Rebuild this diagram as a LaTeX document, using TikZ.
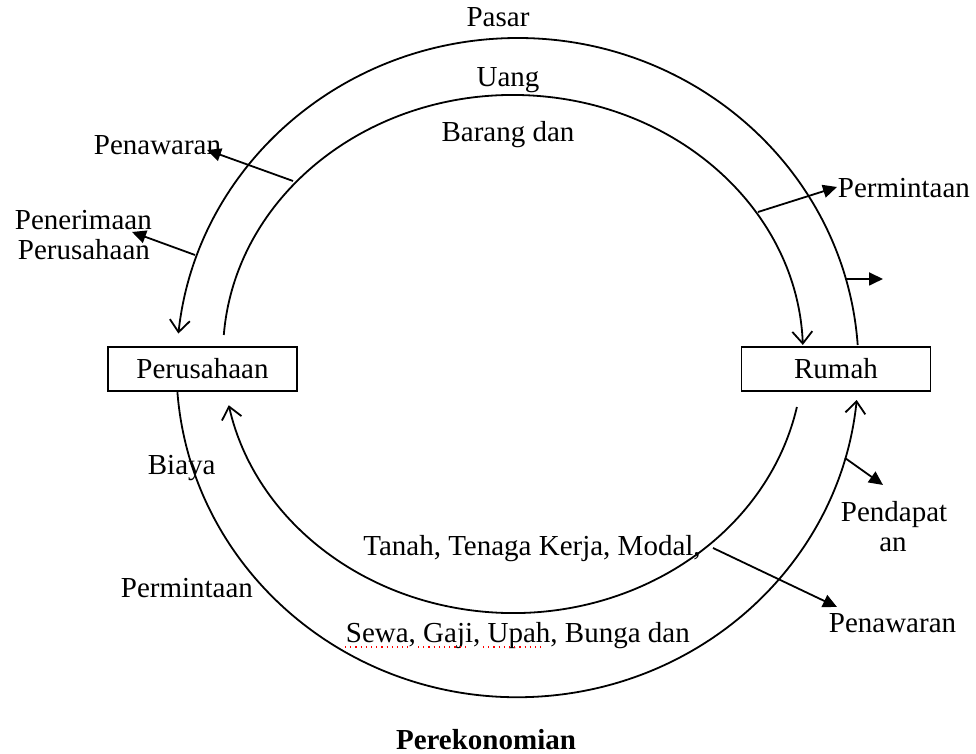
\documentclass[tikz,border=0pt]{standalone}
\usepackage{fontspec}
\setmainfont{Liberation Serif}
\usetikzlibrary{arrows.meta}
\begin{document}
\begin{tikzpicture}[x=0.5pt,y=0.5pt,
  line width=0.9pt,
  flow/.style={-{Straight Barb[length=6pt,width=10pt,line width=0.9pt]}},
  tag/.style={-{Triangle[length=7pt,width=6.5pt]}},
  lbl/.style={inner sep=0pt, font=\fontsize{14.5}{17}\selectfont},
  box/.style={draw, inner sep=0pt, minimum width=94.5pt, minimum height=22pt, font=\fontsize{14.5}{17}\selectfont},
  squig/.style={red, dotted, line width=0.6pt}]
\useasboundingbox (0,0) rectangle (976,754);

% boxes
\node[box] (per) at (202.5,385) {Perusahaan};
\node[box] (rum) at (836,385) {Rumah};

% big flows
\coordinate (oT) at (857.7,409);
\draw[flow] (oT) arc[start angle=4, end angle=174, x radius=341, y radius=330];
\coordinate (oB) at (177.4,362);
\draw[flow] (oB) arc[start angle=184.3, end angle=354.3, x radius=341, y radius=330];
\coordinate (iT) at (223.8,419);
\draw[flow] (iT) arc[start angle=175.8, end angle=2, x radius=290, y radius=259];
\coordinate (iB) at (796.9,347);
\draw[flow] (iB) arc[start angle=-11.8, end angle=-168.6, x radius=290, y radius=259];

% small arrows
\coordinate (a1s) at (293,573); \coordinate (a1t) at (207,604);
\draw[tag] (a1s) -- (a1t);
\coordinate (a2s) at (195,499); \coordinate (a2t) at (132,522);
\draw[tag] (a2s) -- (a2t);
\coordinate (a3s) at (758,542); \coordinate (a3t) at (837,567);
\draw[tag] (a3s) -- (a3t);
\coordinate (a4s) at (845,475); \coordinate (a4t) at (883,475);
\draw[tag] (a4s) -- (a4t);
\coordinate (a5s) at (845,296); \coordinate (a5t) at (883,269);
\draw[tag] (a5s) -- (a5t);
\coordinate (a6s) at (713,206); \coordinate (a6t) at (837,147);
\draw[tag] (a6s) -- (a6t);

% labels
\node[lbl, anchor=base] (pasar) at (498,727) {Pasar};
\node[lbl, anchor=base] (uang) at (508,667) {Uang};
\node[lbl, anchor=base] (barang) at (508,612) {Barang dan};
\node[lbl, anchor=base west] (penw1) at (93,599) {Penawaran};
\node[lbl, anchor=base west] (pener) at (14,524) {Penerimaan};
\node[lbl, anchor=base west] (perus2) at (17,494) {Perusahaan};
\node[lbl, anchor=base west] (perm1) at (837,556) {Permintaan};
\node[lbl, anchor=base west] (biaya) at (147,279) {Biaya};
\node[lbl, anchor=base west] (perm2) at (120,156) {Permintaan};
\node[lbl, anchor=base] (tanah) at (532,198) {Tanah, Tenaga Kerja, Modal,};
\node[lbl, anchor=base west] (sewa) at (345,111) {Sewa, Gaji, Upah, Bunga dan};
\node[lbl, anchor=base west] (pend) at (840,232) {Pendapat};
\node[lbl, anchor=base] (pend2) at (893,202) {an};
\node[lbl, anchor=base west] (penw2) at (828,121) {Penawaran};
\node[lbl, anchor=base, font=\fontsize{14.5}{17}\selectfont\bfseries] (title) at (486,4) {Perekonomian};

% spell-check marks
\draw[squig] (345,107) -- (408,107);
\draw[squig] (418,107) -- (468,107);
\draw[squig] (483,107) -- (545,107);
\end{tikzpicture}
\end{document}
